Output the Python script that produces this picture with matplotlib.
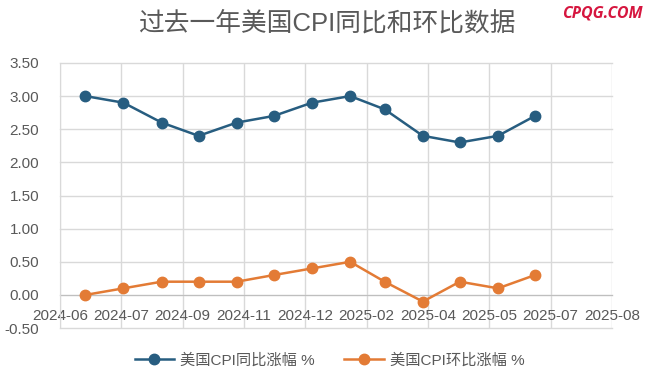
import datetime as dt
import numpy as np
import matplotlib
matplotlib.use("Agg")
import matplotlib.pyplot as plt
import matplotlib.dates as mdates

plt.rcParams['font.family'] = ['Liberation Sans', 'Noto Sans CJK SC', 'DejaVu Sans']

# data: monthly CPI, June 2024 .. June 2025 (plotted at month end)
months = ['2024-06', '2024-07', '2024-08', '2024-09', '2024-10', '2024-11', '2024-12',
          '2025-01', '2025-02', '2025-03', '2025-04', '2025-05', '2025-06']
cpi_yoy = [3.0, 2.9, 2.6, 2.4, 2.6, 2.7, 2.9, 3.0, 2.8, 2.4, 2.3, 2.4, 2.7]
cpi_mom = [0.0, 0.1, 0.2, 0.2, 0.2, 0.3, 0.4, 0.5, 0.2, -0.1, 0.2, 0.1, 0.3]
x_labels = ['2024-06', '2024-07', '2024-09', '2024-11', '2024-12',
            '2025-02', '2025-04', '2025-05', '2025-07', '2025-08']
y_ticks = [-0.5, 0.0, 0.5, 1.0, 1.5, 2.0, 2.5, 3.0, 3.5]

title = '过去一年美国CPI同比和环比数据'
name_yoy = '美国CPI同比涨幅 %'
name_mom = '美国CPI环比涨幅 %'

# month-end dates
def month_end(s):
    y, m = map(int, s.split('-'))
    nxt = dt.date(y + (m == 12), m % 12 + 1, 1)
    return nxt - dt.timedelta(days=1)

dates = mdates.date2num([month_end(m) for m in months])

blue = '#275d80'
orange = '#e37b35'
grid = '#d9d9d9'
text_gray = '#595959'

fig = plt.figure(figsize=(6.5, 3.86), dpi=100)
ax = fig.add_axes([0.0923, 0.150, 0.8492, 0.687])

ax.plot(dates, cpi_yoy, color=blue, lw=1.8, marker='o', ms=7.5, label=name_yoy, zorder=3)
ax.plot(dates, cpi_mom, color=orange, lw=1.8, marker='o', ms=7.5, label=name_mom, zorder=3)

left = dates[0] - 20.5
right = dates[-1] + 62.5
ax.set_xlim(left, right)
ax.set_ylim(-0.5, 3.5)

ax.set_xticks(np.linspace(left, right, len(x_labels)))
ax.set_xticklabels(x_labels)
ax.set_yticks(y_ticks)
ax.set_yticklabels(['%.2f' % v for v in y_ticks])

ax.grid(True, color=grid, lw=1.0)
for gl in ax.get_xgridlines() + ax.get_ygridlines():
    gl.set_clip_on(False)
ax.set_axisbelow(True)
for s in ['top', 'right']:
    ax.spines[s].set_visible(False)
ax.spines['left'].set_color(grid)
ax.spines['bottom'].set_position(('data', 0))
ax.spines['bottom'].set_color('#bfbfbf')
ax.spines['bottom'].set_zorder(2)

ax.tick_params(axis='both', length=0, labelsize=11, labelcolor=text_gray)
ax.tick_params(axis='y', pad=15)
ax.tick_params(axis='x', pad=10)

fig.text(0.502, 0.94, title, ha='center', va='center', fontsize=18.5, color=text_gray)
fig.text(0.988, 0.965, 'CPQG.COM', ha='right', va='center', fontsize=11.5,
         color='#d6163f', fontweight='bold', fontstyle='italic', family='Open Sans')

fig.legend(loc='center', bbox_to_anchor=(0.507, 0.067), ncol=2, frameon=False,
           fontsize=11, labelcolor=text_gray, handlelength=2.6, columnspacing=1.9,
           handletextpad=0.4)

fig.savefig('out.png', dpi=100)
